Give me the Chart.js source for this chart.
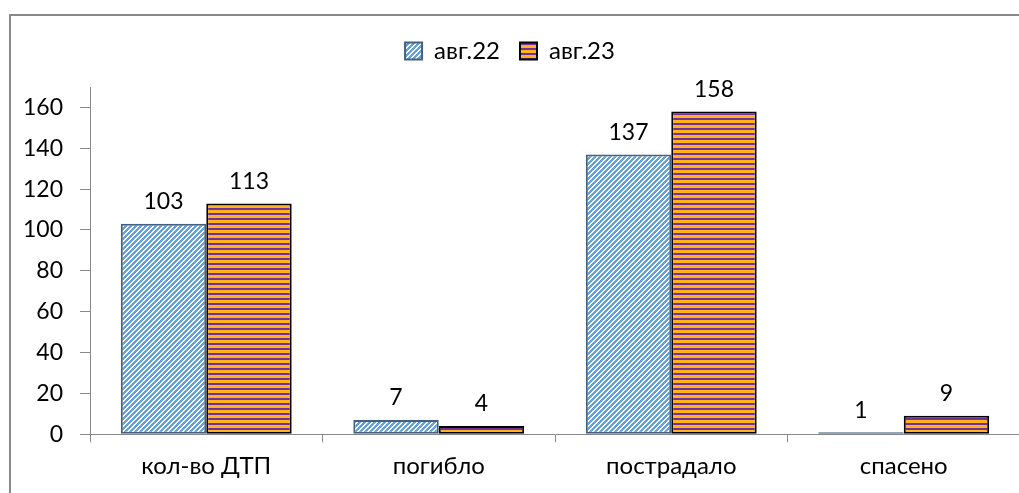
<!DOCTYPE html>
<html>
<head>
<meta charset="utf-8">
<script src="https://cdn.jsdelivr.net/npm/chart.js@4.4.0/dist/chart.umd.min.js"></script>
<style>
    html, body { margin: 0; padding: 0; background: #fff; overflow: hidden; }
    #wrap { width: 1024px; height: 493px; }
</style>
</head>
<body>
<div id="wrap"><canvas id="accidentsChart" width="1024" height="493"></canvas></div>
<script>
const categories = ['кол-во ДТП', 'погибло', 'пострадало', 'спасено'];
const seriesNames = ['авг.22', 'авг.23'];
const aug22 = [103, 7, 137, 1];
const aug23 = [113, 4, 158, 9];
const yTicks = [0, 20, 40, 60, 80, 100, 120, 140, 160];

const FONT = 'Lato, "Open Sans", sans-serif';
const FSIZE = 23;
const LSIZE = 24;

// Diagonal blue hatch on white
function makeHatch() {
    const c = document.createElement('canvas');
    c.width = 5; c.height = 5;
    const g = c.getContext('2d');
    g.fillStyle = '#ffffff';
    g.fillRect(0, 0, 5, 5);
    g.fillStyle = '#62a1dc';
    for (let y = 0; y < 5; y++) {
        for (let x = 0; x < 5; x++) {
            if ((x + y) % 5 < 3) g.fillRect(x, y, 1, 1);
        }
    }
    return g.createPattern(c, 'repeat');
}

// Horizontal orange / purple stripes
function makeStripes() {
    const c = document.createElement('canvas');
    c.width = 4; c.height = 5;
    const g = c.getContext('2d');
    g.fillStyle = '#ffb319';
    g.fillRect(0, 0, 4, 5);
    g.fillStyle = '#7030a0';
    g.fillRect(0, 3, 4, 2);
    return g.createPattern(c, 'repeat');
}

const framePlugin = {
    id: 'frame',
    beforeDraw(chart) {
        const ctx = chart.ctx;
        ctx.save();
        ctx.strokeStyle = '#888888';
        ctx.lineWidth = 2;
        ctx.beginPath();
        ctx.moveTo(10, 600);
        ctx.lineTo(10, 15);
        ctx.lineTo(1100, 15);
        ctx.stroke();
        ctx.restore();
    }
};

// extra gap under the legend row
const legendGap = {
    id: 'legendGap',
    afterInit(chart) {
        const legend = chart.legend;
        if (!legend) return;
        const fit = legend.fit;
        legend.fit = function () {
            fit.call(this);
            this.height += 14;
        };
    }
};

const valueLabels = {
    id: 'valueLabels',
    afterDatasetsDraw(chart) {
        const ctx = chart.ctx;
        ctx.save();
        ctx.font = FSIZE + 'px ' + FONT;
        ctx.fillStyle = '#000';
        ctx.textAlign = 'center';
        ctx.textBaseline = 'middle';
        chart.data.datasets.forEach((ds, i) => {
            const meta = chart.getDatasetMeta(i);
            meta.data.forEach((bar, j) => {
                ctx.fillText(String(ds.data[j]), bar.x, bar.y - 22);
            });
        });
        ctx.restore();
    }
};

new Chart(document.getElementById('accidentsChart'), {
    type: 'bar',
    data: {
        labels: categories,
        datasets: [
            {
                label: seriesNames[0],
                data: aug22,
                backgroundColor: makeHatch(),
                borderColor: '#45617f',
                borderWidth: 2,
                borderSkipped: false
            },
            {
                label: seriesNames[1],
                data: aug23,
                backgroundColor: makeStripes(),
                borderColor: '#000000',
                borderWidth: 2,
                borderSkipped: false
            }
        ]
    },
    options: {
        responsive: false,
        animation: false,
        layout: { padding: { top: 19, right: 4, left: 0, bottom: 2 } },
        datasets: {
            bar: { categoryPercentage: 0.735, barPercentage: 1 }
        },
        plugins: {
            tooltip: { enabled: false },
            legend: {
                position: 'top',
                labels: {
                    color: '#000',
                    font: { family: FONT, size: LSIZE },
                    boxWidth: 17,
                    boxHeight: 17,
                    padding: 20
                }
            }
        },
        scales: {
            x: {
                border: { color: '#888888', width: 1 },
                grid: { drawOnChartArea: false, drawTicks: true, tickLength: 8, color: '#888888' },
                ticks: { color: '#000', font: { family: FONT, size: LSIZE }, padding: 10 }
            },
            y: {
                min: 0,
                max: 170,
                afterFit(scale) { scale.width = 90; },
                afterBuildTicks(scale) { scale.ticks = yTicks.map(v => ({ value: v })); },
                border: { color: '#888888', width: 1 },
                grid: { drawOnChartArea: false, drawTicks: true, tickLength: 10, color: '#888888' },
                ticks: { color: '#000', font: { family: FONT, size: FSIZE }, padding: 17 }
            }
        }
    },
    plugins: [framePlugin, legendGap, valueLabels]
});
</script>
</body>
</html>
